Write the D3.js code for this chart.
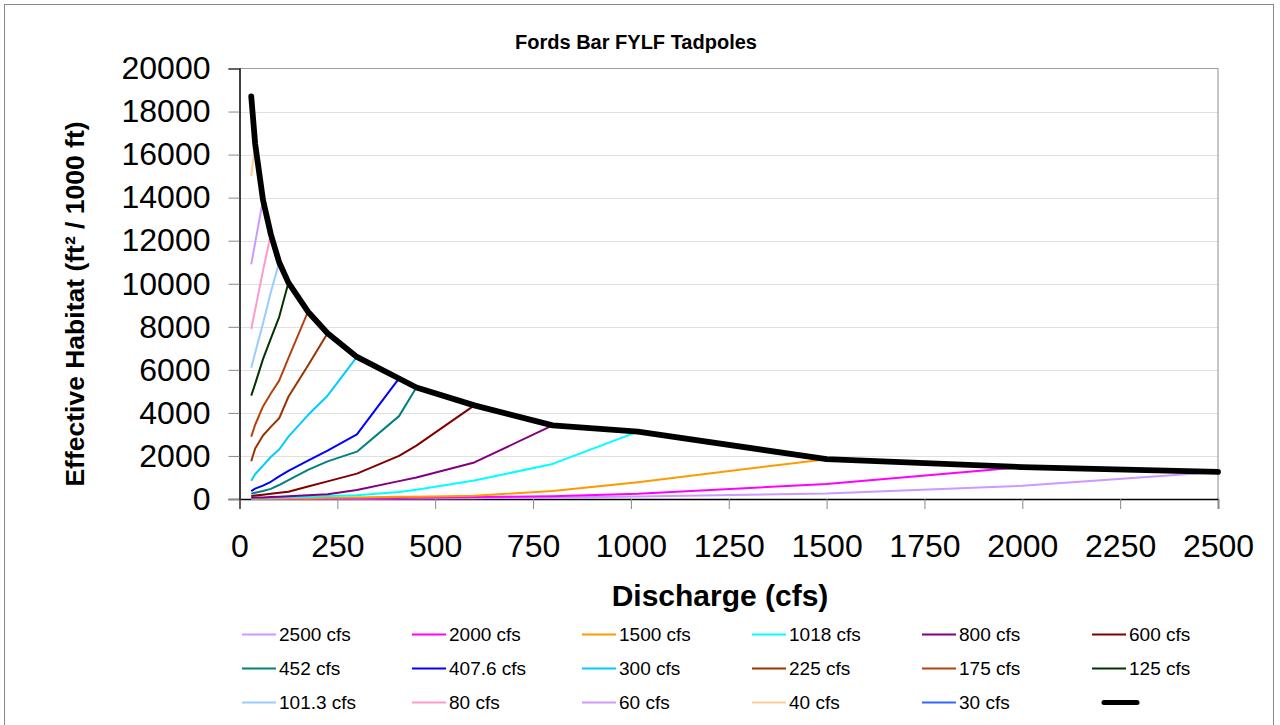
<!DOCTYPE html>
<html>
<head>
<meta charset="utf-8">
<script src="https://cdn.jsdelivr.net/npm/d3@7"></script>
<style>
  html, body { margin: 0; padding: 0; background: #fff; }
  svg { display: block; font-family: "Liberation Sans", Arial, sans-serif; }
</style>
</head>
<body>
<svg id="chart" width="1280" height="725"></svg>
<script>
// ---------------- DATA ----------------
const discharges = [30, 40, 60, 80, 101.3, 125, 175, 225, 300, 407.6, 452, 600, 800, 1018, 1500, 2000, 2500];

const seriesLabels = ["2500 cfs", "2000 cfs", "1500 cfs", "1018 cfs", "800 cfs", "600 cfs",
  "452 cfs", "407.6 cfs", "300 cfs", "225 cfs", "175 cfs", "125 cfs",
  "101.3 cfs", "80 cfs", "60 cfs", "40 cfs", "30 cfs", ""];

const s2500 = [3, 3, 4, 5, 6, 8, 10, 12, 15, 20, 25, 40, 70, 120, 250, 610, 1260];
const s2000 = [5, 5, 8, 10, 12, 15, 20, 25, 35, 50, 60, 90, 130, 240, 700, 1480];
const s1500 = [10, 12, 15, 20, 25, 30, 40, 55, 70, 100, 110, 150, 370, 780, 1850];
const s1018 = [30, 35, 45, 55, 65, 80, 110, 140, 170, 330, 430, 860, 1630, 3130];
const s800  = [60, 65, 75, 90, 110, 130, 170, 220, 420, 830, 1000, 1700, 3420];
const s600  = [140, 160, 200, 240, 290, 340, 580, 820, 1180, 2000, 2480, 4350];
const s452  = [250, 290, 370, 470, 650, 880, 1350, 1750, 2200, 3850, 5180];
const s407  = [370, 480, 620, 800, 1050, 1310, 1780, 2250, 3000, 5600];
const s300  = [850, 1150, 1550, 1950, 2300, 2900, 3900, 4800, 6600];
const s225  = [1750, 2350, 2950, 3350, 3750, 4750, 6200, 7700];
const s175  = [2900, 3450, 4300, 4900, 5500, 6550, 8700];
const s125  = [4800, 5350, 6500, 7450, 8450, 10050];
const s101  = [6100, 6800, 8150, 9600, 11000];
const s80   = [7900, 8800, 10600, 12300];
const s60   = [10900, 11900, 13900];
const s40   = [15000, 16500];
const s30   = [18700];
const envelope = [18700, 16500, 13900, 12300, 11000, 10050, 8700, 7700, 6600, 5600, 5180, 4350, 3420, 3130, 1850, 1480, 1260];

const xTicks = [0, 250, 500, 750, 1000, 1250, 1500, 1750, 2000, 2250, 2500];
const yTicks = [0, 2000, 4000, 6000, 8000, 10000, 12000, 14000, 16000, 18000, 20000];

const titleText = "Fords Bar FYLF Tadpoles";
const xTitle = "Discharge (cfs)";
const yTitle = "Effective Habitat (ft² / 1000 ft)";

// ---------------- STYLES ----------------
const seriesValues = [s2500, s2000, s1500, s1018, s800, s600, s452, s407, s300, s225, s175, s125, s101, s80, s60, s40, s30, envelope];
const seriesColors = ["#CC99FF", "#FF00FF", "#FF9900", "#00FFFF", "#800080", "#800000",
  "#008080", "#0000FF", "#00CCFF", "#993300", "#B5420E", "#003300",
  "#99CCFF", "#FF99CC", "#CC99FF", "#FFCC99", "#3366FF", "#000000"];
const seriesWidths = seriesValues.map((d, i) => i === seriesValues.length - 1 ? 5.8 : 2);

// ---------------- CHART ----------------
const svg = d3.select("#chart");
const pLeft = 239.5, pRight = 1218, pTop = 68.5, pBottom = 499;

const x = d3.scaleLinear().domain([0, 2500]).range([pLeft, pRight]);
const y = d3.scaleLinear().domain([0, 20000]).range([pBottom, pTop]);

// outer border
svg.append("rect").attr("x", 4.5).attr("y", 4.5).attr("width", 1269).attr("height", 740)
  .attr("fill", "#fff").attr("stroke", "#888").attr("stroke-width", 1);

// gridlines
svg.append("g").selectAll("line").data(yTicks.filter(d => d > 0 && d < 20000)).join("line")
  .attr("x1", pLeft).attr("x2", pRight)
  .attr("y1", d => Math.round(y(d)) + 0.5).attr("y2", d => Math.round(y(d)) + 0.5)
  .attr("stroke", "#e0e0e0").attr("stroke-width", 1);

// plot border top/right
svg.append("path")
  .attr("d", `M${pLeft},${pTop}H${pRight}V${pBottom}`)
  .attr("fill", "none").attr("stroke", "#a0a0a0").attr("stroke-width", 1.2);

// Y axis
const yAxis = d3.axisLeft(y).tickValues(yTicks).tickSize(11).tickPadding(18).tickFormat(d3.format("d"));
const gy = svg.append("g").attr("transform", `translate(${pLeft},0)`).call(yAxis);
gy.select(".domain").attr("stroke", "#000").attr("stroke-width", 1.5);
gy.selectAll(".tick line").attr("stroke", "#888");
gy.selectAll(".tick text").attr("font-size", 32).attr("fill", "#000")
  .attr("font-family", "'Liberation Sans', Arial, sans-serif");

// X axis
const xAxis = d3.axisBottom(x).tickValues(xTicks).tickSize(10).tickPadding(25).tickFormat(d3.format("d"));
const gx = svg.append("g").attr("transform", `translate(0,${pBottom})`).call(xAxis);
gx.select(".domain").attr("stroke", "#000").attr("stroke-width", 1.5);
gx.selectAll(".tick line").attr("stroke", "#888");
gx.selectAll(".tick text").attr("font-size", 32).attr("fill", "#000")
  .attr("font-family", "'Liberation Sans', Arial, sans-serif");

// lines
const line = d3.line().x((d, i) => x(discharges[i])).y(d => y(d));
svg.append("g").selectAll("path").data(seriesValues).join("path")
  .attr("d", d => line(d))
  .attr("fill", "none")
  .attr("stroke", (d, i) => seriesColors[i])
  .attr("stroke-width", (d, i) => seriesWidths[i])
  .attr("stroke-linejoin", "round")
  .attr("stroke-linecap", (d, i) => i === seriesValues.length - 1 ? "round" : "butt");

// titles
svg.append("text").attr("x", 636).attr("y", 49).attr("text-anchor", "middle")
  .attr("font-size", 20).attr("font-weight", "bold").text(titleText);
svg.append("text").attr("x", 720).attr("y", 606).attr("text-anchor", "middle")
  .attr("font-size", 30).attr("font-weight", "bold").text(xTitle);
svg.append("text").attr("transform", "translate(84,304) rotate(-90)").attr("text-anchor", "middle")
  .attr("font-size", 26.5).attr("font-weight", "bold").text(yTitle);

// legend
const legend = svg.append("g");
const items = legend.selectAll("g").data(seriesLabels).join("g")
  .attr("transform", (d, i) => `translate(${242 + (i % 6) * 170},${634 + Math.floor(i / 6) * 34})`);
items.append("line")
  .attr("x1", (d, i) => i === seriesLabels.length - 1 ? 12 : 0)
  .attr("x2", (d, i) => i === seriesLabels.length - 1 ? 45 : 34)
  .attr("y1", 0.5).attr("y2", 0.5)
  .attr("stroke", (d, i) => seriesColors[i])
  .attr("stroke-width", (d, i) => i === seriesLabels.length - 1 ? 5 : 2)
  .attr("stroke-linecap", (d, i) => i === seriesLabels.length - 1 ? "round" : "butt");
items.append("text").attr("x", 37).attr("y", 7).attr("font-size", 19).attr("fill", "#000").text(d => d);
</script>
</body>
</html>
